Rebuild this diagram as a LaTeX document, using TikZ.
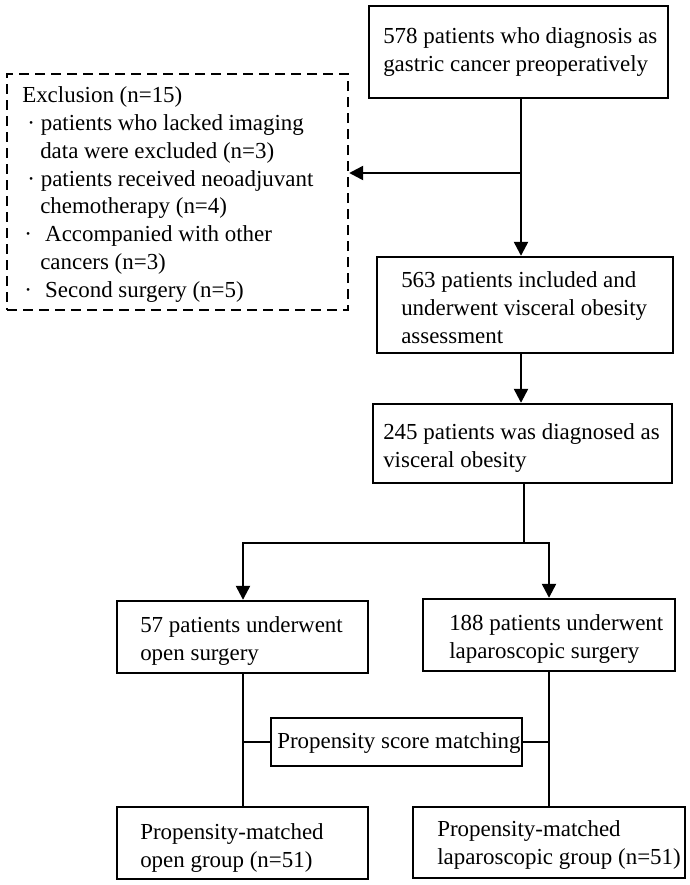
\documentclass[tikz,border=0pt]{standalone}
\usepackage{fontspec}
\setmainfont{Liberation Serif}
\usetikzlibrary{arrows.meta,fit}
\begin{document}
\begin{tikzpicture}[x=0.75pt,y=-0.75pt,
  box/.style={draw, line width=1.8pt, inner sep=0pt, rectangle},
  dbox/.style={box, dash pattern=on 7.5pt off 4.5pt},
  txt/.style={align=left, inner sep=0pt, anchor=base west, font=\fontsize{17.2}{20.8}\selectfont},
  conn/.style={line width=1.8pt},
  arr/.style={conn, -{Triangle[width=10.5pt,length=10.5pt]}},
  darr/.style={conn, {Triangle[width=10.5pt,length=10.5pt]}-{Triangle[width=10.5pt,length=10.5pt]}}]
\useasboundingbox (0,0) rectangle (689,885);
% boxes
\node[box, fit={(369,6)(668,98)}] (b1) {};
\node[dbox, fit={(7,74)(348,310)}] (ex) {};
\node[box, fit={(377,257)(673,353)}] (b2) {};
\node[box, fit={(373,404)(672,483)}] (b3) {};
\node[box, fit={(117,601)(368,673)}] (b4) {};
\node[box, fit={(423,599)(675,671)}] (b5) {};
\node[box, fit={(271,718)(522,766)}] (psm) {};
\node[box, fit={(117,807)(368,879)}] (b6) {};
\node[box, fit={(413,807)(685,878)}] (b7) {};
% texts (anchored at the baseline of their last line)
\node[txt] (t1) at (383,71) {578 patients who diagnosis as\\gastric cancer preoperatively};
\node[txt] (tex) at (22,297) {Exclusion (n=15)\\
\hspace*{3.9pt}·\ patients who lacked imaging\\
\hspace*{13.5pt}data were excluded (n=3)\\
\hspace*{3.9pt}·\ patients received neoadjuvant\\
\hspace*{13.5pt}chemotherapy (n=4)\\
\hspace*{1.5pt}·\hspace{10pt}Accompanied with other\\
\hspace*{13.5pt}cancers (n=3)\\
\hspace*{1.5pt}·\hspace{10pt}Second surgery (n=5)};
\node[txt] (t2) at (401,343) {563 patients included and\\underwent visceral obesity\\assessment};
\node[txt] (t3) at (383,467) {245 patients was diagnosed as\\visceral obesity};
\node[txt] (t4) at (140,660) {57 patients underwent\\open surgery};
\node[txt] (t5) at (449,658) {188 patients underwent\\laparoscopic surgery};
\node[txt] (tpsm) at (277,748) {Propensity score matching};
\node[txt] (t6) at (140,867) {Propensity-matched\\open group (n=51)};
\node[txt] (t7) at (437,864) {Propensity-matched\\laparoscopic group (n=51)};
% connector coordinates
\coordinate (c1) at (521,173);
\coordinate (c2) at (524,543);
\coordinate (c3) at (243,543);
\coordinate (c4) at (549,543);
% connectors
\draw[arr] (b1.south -| c1) -- (b2.north -| c1);
\draw[arr] (c1) -- (c1 -| ex.east);
\draw[arr] (b2.south -| c1) -- (b3.north -| c1);
\draw[conn] (b3.south -| c2) -- (c2);
\draw[darr] (b4.north -| c3) -- (c3) -- (c4) -- (b5.north -| c4);
\draw[conn] (b4.south -| c3) -- (b6.north -| c3);
\draw[conn] (b5.south -| c4) -- (b7.north -| c4);
\draw[conn] (psm.west) -- (psm.west -| c3);
\draw[conn] (psm.east) -- (psm.east -| c4);
\end{tikzpicture}
\end{document}
